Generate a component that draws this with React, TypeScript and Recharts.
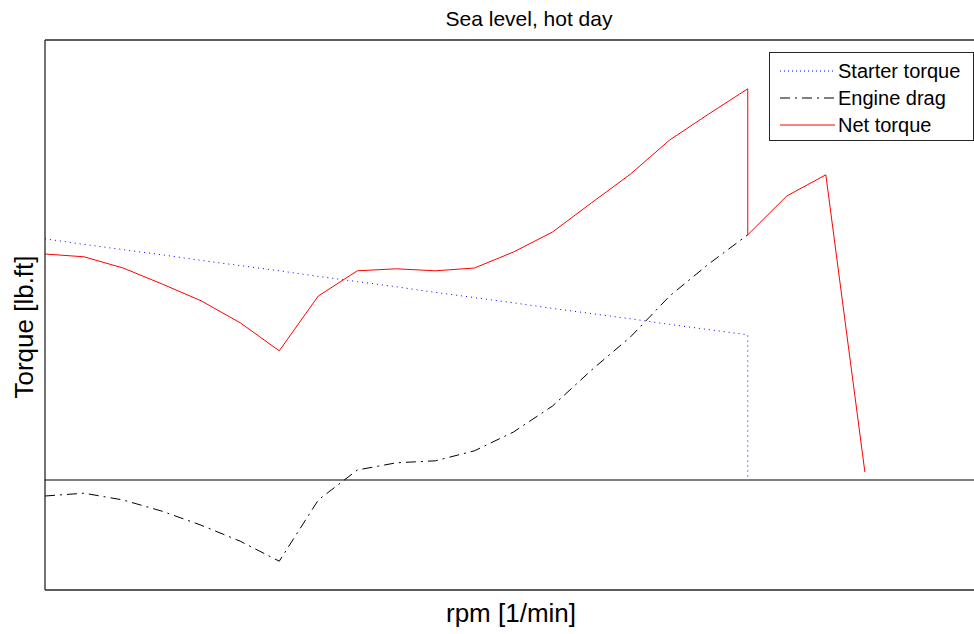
import React from 'react';
import { LineChart, Line, XAxis, YAxis, ReferenceLine } from 'recharts';

// rpm grid (x) and torque readings (lb.ft)
const rpmSteps = [0, 250, 500, 750, 1000, 1250, 1500, 1750, 2000, 2250, 2500, 2750, 3000, 3250, 3500, 3750, 4000, 4250, 4500];
const starterTorque = [60.3, 58.9, 57.6, 56.3, 54.9, 53.6, 52.3, 50.9, 49.6, 48.3, 46.9, 45.6, 44.3, 42.9, 41.6, 40.3, 38.9, 37.6, 36.3];
const engineDrag = [-4, -3.3, -5, -7.8, -11.3, -15.3, -20.3, -5, 2.5, 4.3, 4.8, 7.3, 12, 18.5, 27.5, 35.8, 46, 54, 61.3];

const netRpm = [0, 250, 500, 750, 1000, 1250, 1500, 1750, 2000, 2250, 2500, 2750, 3000, 3250, 3500, 3750, 4000, 4250, 4500, 4500, 4750, 5000, 5250];
const netTorque = [56.5, 55.8, 53, 49, 44.8, 39.3, 32.3, 46, 52.3, 52.8, 52.3, 53, 57, 62, 69.3, 76.5, 85, 91.5, 97.8, 61.3, 71, 76.3, 2];

const xDomain = [0, 6000];
const yDomain = [-27.5, 110];

const starterData = [
  ...rpmSteps.map((rpm, i) => ({ rpm, torque: starterTorque[i] })),
  { rpm: 4500, torque: 0 },
];
const dragData = rpmSteps.map((rpm, i) => ({ rpm, torque: engineDrag[i] }));
const netData = netRpm.map((rpm, i) => ({ rpm, torque: netTorque[i] }));

const font = '"Liberation Sans", Arial, sans-serif';
const boxColor = '#262626';

const legendItems = [
  { label: 'Starter torque', color: '#0000ff', dash: '1 3' },
  { label: 'Engine drag', color: '#000000', dash: '10 5 2 5' },
  { label: 'Net torque', color: '#ff0000', dash: undefined },
];

export default function App() {
  return (
    // fixed to the window so the wider-than-window plot never makes the page scroll
    <div
      style={{
        position: 'fixed',
        left: 0,
        top: 0,
        width: 974,
        height: 634,
        overflow: 'hidden',
        fontFamily: font,
        background: '#fff',
        color: '#000',
      }}
    >
      <LineChart width={1008} height={634} margin={{ top: 40, right: 26, bottom: 44, left: 45 }}>
        <XAxis type="number" dataKey="rpm" domain={xDomain} tick={false} tickLine={false} axisLine={false} height={0} />
        <YAxis type="number" domain={yDomain} tick={false} tickLine={false} axisLine={false} width={0} />
        {/* axes box: top, left, bottom (right edge falls outside the frame) */}
        <ReferenceLine y={yDomain[1]} stroke={boxColor} strokeWidth={1.3} />
        <ReferenceLine y={yDomain[0]} stroke={boxColor} strokeWidth={1.3} />
        <ReferenceLine x={xDomain[0]} stroke={boxColor} strokeWidth={1.3} />
        <ReferenceLine y={0} stroke="#000" strokeWidth={1.2} />
        <Line
          data={starterData}
          dataKey="torque"
          type="linear"
          stroke="#0000ff"
          strokeDasharray="1 4"
          strokeWidth={1}
          dot={false}
          activeDot={false}
          isAnimationActive={false}
        />
        <Line
          data={dragData}
          dataKey="torque"
          type="linear"
          stroke="#000"
          strokeDasharray="10 5 2 5"
          strokeWidth={1}
          dot={false}
          activeDot={false}
          isAnimationActive={false}
        />
        <Line
          data={netData}
          dataKey="torque"
          type="linear"
          stroke="#ff0000"
          strokeWidth={1}
          dot={false}
          activeDot={false}
          isAnimationActive={false}
        />
      </LineChart>

      {/* title and axis labels */}
      <div style={{ position: 'absolute', left: 429, width: 200, top: 8, textAlign: 'center', fontSize: 21, lineHeight: '22px', whiteSpace: 'nowrap' }}>
        Sea level, hot day
      </div>
      <div style={{ position: 'absolute', left: 411, width: 200, top: 598, textAlign: 'center', fontSize: 26, lineHeight: '30px', whiteSpace: 'nowrap' }}>
        rpm [1/min]
      </div>
      <div style={{ position: 'absolute', left: 24, top: 327, width: 0, height: 0 }}>
        <div
          style={{
            position: 'absolute',
            left: 0,
            top: 0,
            transform: 'translate(-50%, -50%) rotate(-90deg)',
            whiteSpace: 'nowrap',
            fontSize: 26,
            lineHeight: '30px',
          }}
        >
          Torque [lb.ft]
        </div>
      </div>

      {/* legend */}
      <div
        style={{
          position: 'absolute',
          left: 769,
          top: 52,
          width: 205,
          height: 89,
          border: `1px solid ${boxColor}`,
          background: '#fff',
          boxSizing: 'border-box',
        }}
      >
        {legendItems.map((item, i) => (
          <div
            key={item.label}
            style={{ position: 'absolute', left: 10, top: 5 + i * 27, height: 26, display: 'flex', alignItems: 'center', fontSize: 20, whiteSpace: 'nowrap' }}
          >
            <svg width={55} height={10} style={{ marginRight: 3 }}>
              <line x1={0} y1={5} x2={55} y2={5} stroke={item.color} strokeWidth={1} strokeDasharray={item.dash} />
            </svg>
            <span>{item.label}</span>
          </div>
        ))}
      </div>
    </div>
  );
}
